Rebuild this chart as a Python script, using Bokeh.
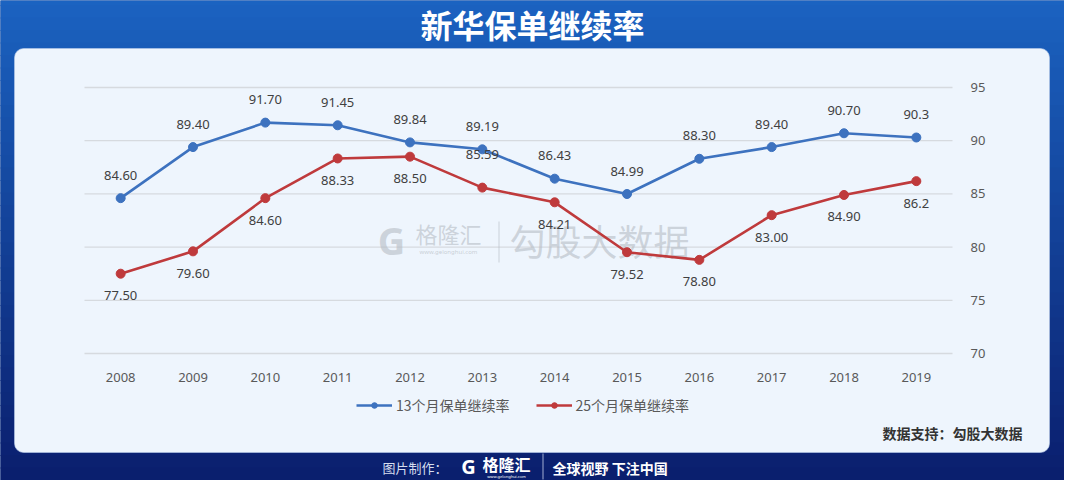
from bokeh.plotting import figure
from bokeh.models import (Range1d, FixedTicker, Label, BoxAnnotation,
                          Legend, LegendItem)
from bokeh.core.properties import value
from bokeh.embed import file_html
from bokeh.resources import INLINE

# ---------------- data ----------------
years = ["2008", "2009", "2010", "2011", "2012", "2013",
         "2014", "2015", "2016", "2017", "2018", "2019"]
rate_13 = [84.60, 89.40, 91.70, 91.45, 89.84, 89.19, 86.43, 84.99, 88.30, 89.40, 90.70, 90.3]
rate_25 = [77.50, 79.60, 84.60, 88.33, 88.50, 85.59, 84.21, 79.52, 78.80, 83.00, 84.90, 86.2]
labels_13 = ["84.60", "89.40", "91.70", "91.45", "89.84", "89.19",
             "86.43", "84.99", "88.30", "89.40", "90.70", "90.3"]
labels_25 = ["77.50", "79.60", "84.60", "88.33", "88.50", "85.59",
             "84.21", "79.52", "78.80", "83.00", "84.90", "86.2"]
y_ticks = [70, 75, 80, 85, 90, 95]
series_names = ["13个月保单继续率", "25个月保单继续率"]
title_text = "新华保单继续率"
source_text = "数据支持：勾股大数据"

# ---------------- styles / layout ----------------
BLUE = "#3D72BF"
RED = "#BF3A3C"
PANEL = "#EEF5FD"
NUM_FONT = "Noto Sans"
CJK = "Noto Sans CJK SC"
red_label_side = [1, 1, 1, 1, 1, -1, 1, 1, 1, 1, 1, 1]   # 1 below, -1 above

xi = list(range(len(years)))          # category positions
x_lo_cat, x_hi_cat = -0.5, len(years) - 0.5

OFF = 8
W, H = 1064, 480
PL, PR = 92, 960                      # plot area (page px), left/right
Y_TOP, Y_BOT = 95, 361                # page px of 95 and 70
STEP = (PR - PL) / len(years)
PX_PER = (Y_BOT - Y_TOP) / 25.0

def page_to_x(px):
    return (px - (PL + STEP / 2)) / STEP

def page_to_y(py):
    return 70 + (Y_BOT - py) / PX_PER

p = figure(width=W, height=H,
           x_range=Range1d(page_to_x(OFF), page_to_x(OFF + W)),
           y_range=Range1d(page_to_y(OFF + H), page_to_y(OFF)),
           y_axis_location="right", output_backend="svg", toolbar_location=None,
           min_border=0)
p.extra_x_ranges = {"px": Range1d(OFF, OFF + W)}
p.extra_y_ranges = {"py": Range1d(OFF + H, OFF)}
p.background_fill_color = "#12408F"
p.border_fill_color = "#12408F"
p.outline_line_color = None
p.xgrid.visible = False
p.ygrid.visible = False

PXR = dict(x_range_name="px", y_range_name="py")

# background gradient (page pixel coords)
top_c = (0x1B, 0x63, 0xC1)
bot_c = (0x0A, 0x1D, 0x6C)
n = 40
for i in range(n):
    t = i / (n - 1)
    c = tuple(int(round(top_c[k] + (bot_c[k] - top_c[k]) * t)) for k in range(3))
    y0 = i * (500 / n)
    p.add_layout(BoxAnnotation(left=0, right=1080, top=y0, bottom=y0 + 500 / n + 1,
                               fill_color="#%02x%02x%02x" % c, fill_alpha=1,
                               line_color=None, level="image", **PXR))
# white panel
p.add_layout(BoxAnnotation(left=22, right=1057, top=56, bottom=460, border_radius=9,
                           fill_color=PANEL, fill_alpha=1, line_color="#B9CCE8",
                           line_alpha=0.6, level="image", **PXR))

# axes (fixed inside the frame) & grid lines
p.yaxis.ticker = FixedTicker(ticks=y_ticks)
p.yaxis.fixed_location = x_hi_cat
p.xaxis.ticker = FixedTicker(ticks=xi)
p.xaxis.major_label_overrides = {i: y for i, y in zip(xi, years)}
p.xaxis.fixed_location = page_to_y(365)
for ax in (p.xaxis, p.yaxis):
    ax.axis_line_color = None
    ax.major_tick_line_color = None
    ax.minor_tick_line_color = None
    ax.major_label_text_font = NUM_FONT
    ax.major_label_text_font_size = "13px"
    ax.major_label_text_color = "#595959"
p.yaxis.major_label_standoff = 12
p.xaxis.major_label_standoff = 9
p.segment(x0=x_lo_cat, x1=x_hi_cat, y0=y_ticks, y1=y_ticks,
          line_color="#D6DADF", line_width=1.3, level="underlay")

# watermark
wm = "#B6BCC4"
p.add_layout(Label(x=399, y=247, text="G", text_align="center", text_baseline="middle",
                   text_font=NUM_FONT, text_font_style="bold", text_font_size="38px",
                   text_color=wm, text_alpha=0.6, level="underlay", **PXR))
p.add_layout(Label(x=456, y=240, text="格隆汇", text_align="center", text_baseline="middle",
                   text_font=CJK, text_font_size="22px", text_color=wm, text_alpha=0.6,
                   level="underlay", **PXR))
p.add_layout(Label(x=456, y=259, text="www.gelonghui.com", text_align="center",
                   text_baseline="middle", text_font=NUM_FONT, text_font_size="6px",
                   text_color=wm, text_alpha=0.7, level="underlay", **PXR))
p.add_layout(BoxAnnotation(left=506, right=507, top=229, bottom=270, fill_color=wm,
                           fill_alpha=0.6, line_color=None, level="underlay", **PXR))
p.add_layout(Label(x=607, y=247, text="勾股大数据", text_align="center", text_baseline="middle",
                   text_font=CJK, text_font_size="36px", text_color=wm, text_alpha=0.6,
                   level="underlay", **PXR))

# series
l13 = p.line(xi, rate_13, line_color=BLUE, line_width=2.6)
s13 = p.scatter(xi, rate_13, size=9, fill_color=BLUE, line_color=BLUE)
l25 = p.line(xi, rate_25, line_color=RED, line_width=2.6)
s25 = p.scatter(xi, rate_25, size=9, fill_color=RED, line_color=RED)

p.text(x=xi, y=rate_13, text=labels_13, y_offset=-23, text_align="center",
       text_baseline="middle", text_font=value(NUM_FONT), text_font_size="13px",
       text_color="#404040")
red_off = [22 if s > 0 else -33 for s in red_label_side]
p.text(x=xi, y=rate_25, text=labels_25, y_offset=red_off, text_align="center",
       text_baseline="middle", text_font=value(NUM_FONT), text_font_size="13px",
       text_color="#404040")

# legend (screen offset from the canvas bottom-left)
legend = Legend(items=[LegendItem(label=series_names[0], renderers=[l13, s13]),
                       LegendItem(label=series_names[1], renderers=[l25, s25])],
                orientation="horizontal", location=(364 - OFF, OFF + H - 423),
                label_text_font=CJK, label_text_font_size="14px",
                label_text_color="#595959", background_fill_alpha=0,
                border_line_alpha=0, glyph_width=36, glyph_height=14,
                spacing=26, label_standoff=4, padding=0, margin=0)
p.add_layout(legend)

# title, source, footer
p.add_layout(Label(x=540, y=31, text=title_text, text_align="center", text_baseline="middle",
                   text_font=CJK, text_font_style="bold", text_font_size="32px",
                   text_color="white", **PXR))
p.add_layout(Label(x=1030, y=440, text=source_text, text_align="right", text_baseline="middle",
                   text_font=CJK, text_font_style="bold", text_font_size="14px",
                   text_color="#333333", **PXR))
p.add_layout(Label(x=455, y=475, text="图片制作：", text_align="right", text_baseline="middle",
                   text_font=CJK, text_font_size="13px", text_color="#D5DDEE", **PXR))
p.add_layout(Label(x=476, y=474, text="G", text_align="center", text_baseline="middle",
                   text_font=NUM_FONT, text_font_style="bold", text_font_size="20px",
                   text_color="white", **PXR))
p.add_layout(Label(x=514, y=471, text="格隆汇", text_align="center", text_baseline="middle",
                   text_font=CJK, text_font_style="bold", text_font_size="16px",
                   text_color="white", **PXR))
p.add_layout(Label(x=514, y=484, text="www.gelonghui.com", text_align="center",
                   text_baseline="middle", text_font=NUM_FONT, text_font_size="4px",
                   text_color="white", **PXR))
p.add_layout(BoxAnnotation(left=550, right=551, top=461, bottom=487, fill_color="#C8D2EA",
                           fill_alpha=0.8, line_color=None, **PXR))
p.add_layout(Label(x=560, y=475, text="全球视野 下注中国", text_align="left",
                   text_baseline="middle", text_font=CJK, text_font_style="bold",
                   text_font_size="14px", text_color="white", **PXR))

open("out.html", "w").write(file_html(p, INLINE))
